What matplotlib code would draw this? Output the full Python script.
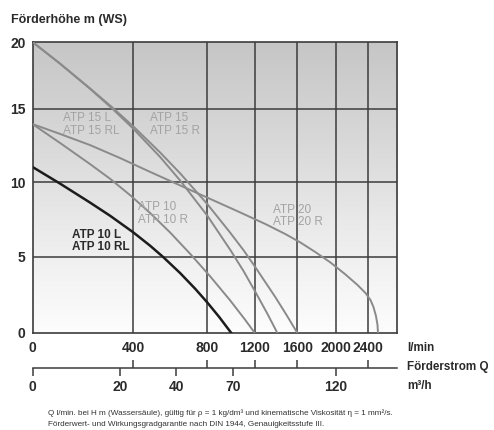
import matplotlib.pyplot as plt
import numpy as np
from matplotlib.colors import LinearSegmentedColormap

q_atp10l = [0, 110, 229, 309, 401, 493, 563, 655, 736, 802, 902, 1003]
h_atp10l = [11.03, 9.89, 8.63, 7.75, 6.65, 5.75, 5.0, 3.94, 2.91, 2.01, 1.05, 0]

q_atp10 = [0, 110, 229, 309, 389, 493, 601, 709, 827, 995, 1120, 1200]
h_atp10 = [13.97, 12.67, 11.23, 10.22, 9.12, 7.93, 6.63, 5.21, 3.72, 2.13, 0.86, 0]

q_atp15 = [0, 110, 229, 317, 401, 547, 655, 802, 995, 1106, 1204, 1393, 1496, 1600]
h_atp15 = [20, 18.38, 16.54, 15.13, 13.82, 12.02, 10.59, 8.53, 6.61, 5.45, 4.34, 2.36, 1.21, 0]

q_atp15l = [0, 110, 229, 317, 401, 547, 655, 802, 995, 1106, 1204, 1318, 1412]
h_atp15l = [20, 18.38, 16.51, 15.04, 13.66, 11.71, 10.1, 7.76, 5.47, 4.07, 2.72, 1.27, 0]

q_atp20 = [0, 110, 229, 349, 493, 655, 827, 1078, 1299, 1487, 1631, 1788, 1946, 2123,
           2273, 2373, 2435, 2472, 2503, 2522, 2528]
h_atp20 = [13.97, 13.29, 12.53, 11.64, 10.69, 9.77, 8.87, 7.97, 7.2, 6.53, 5.97, 5.33, 4.64,
           3.85, 3.16, 2.63, 2.17, 1.71, 1.12, 0.53, 0]

lmin_ticks = [0, 400, 800, 1200, 1600, 2000, 2400]
h_ticks = [0, 5, 10, 15, 20]
m3h_labels = ["0", "20", "40", "70", "120"]
m3h_pos = [0, 349, 633, 1020, 2000]  # Lage auf der l/min-Achse

# nicht-lineare Achsen wie im Datenblatt (stueckweise linear)
kx = np.array([-1e5, 0, 400, 800, 1200, 1600, 2000, 2400, 2760, 1e5])
px = np.array([-25075, 0, 100.3, 174.3, 222, 264.5, 302.7, 334.7, 363.7, 363.7 + (1e5 - 2760) * 0.0806])
ky = np.array([-1e4, 0, 5, 10, 15, 20, 1e4])
py = np.array([-1.52e5, 0, 76, 151, 224, 291, 291 + (1e4 - 20) * 13.4])

def fx(x):
    return np.interp(x, kx, px)

def fxi(x):
    return np.interp(x, px, kx)

def fy(y):
    return np.interp(y, ky, py)

def fyi(y):
    return np.interp(y, py, ky)

W, H = 494, 430
fig = plt.figure(figsize=(W / 100, H / 100), dpi=100)
left, right, top, bottom = 32.5, 396.7, 42, 333
ax = fig.add_axes([left / W, (H - bottom) / H, (right - left) / W, (bottom - top) / H])
ax.set_xscale("function", functions=(fx, fxi))
ax.set_yscale("function", functions=(fy, fyi))
ax.set_xlim(0, 2760)
ax.set_ylim(0, 20)

# Hintergrundverlauf
cmap = LinearSegmentedColormap.from_list("bg", ["#fdfdfd", "#ececec", "#d8d8d8", "#c6c6c6"])
grad = np.linspace(0, 1, 256).reshape(-1, 1)
ax.imshow(grad, extent=(0, 1, 0, 1), transform=ax.transAxes, cmap=cmap,
          aspect="auto", origin="lower", zorder=0)

gc = "#3c3c3c"
for v in lmin_ticks[1:]:
    ax.axvline(v, color=gc, lw=1.1, zorder=1)
for v in h_ticks[1:-1]:
    ax.axhline(v, color=gc, lw=1.1, zorder=1)
for s in ax.spines.values():
    s.set_color(gc)
    s.set_linewidth(1.2)

grey = "#8a8a8a"
ax.plot(q_atp15l, h_atp15l, color=grey, lw=1.4, zorder=3)
ax.plot(q_atp15, h_atp15, color=grey, lw=1.4, zorder=3)
ax.plot(q_atp10, h_atp10, color=grey, lw=1.4, zorder=3)
ax.plot(q_atp20, h_atp20, color=grey, lw=1.4, zorder=3)
ax.plot(q_atp10l, h_atp10l, color="#1c1c1c", lw=1.8, zorder=4)

tfont = dict(family=["Liberation Sans", "DejaVu Sans"], fontsize=8.5)
lc = "#a3a3a3"
ax.text(120, 13.95, "ATP 15 L\nATP 15 RL", color=lc, va="center", linespacing=1.05, zorder=5, **tfont)
ax.text(490, 13.95, "ATP 15\nATP 15 R", color=lc, va="center", linespacing=1.05, zorder=5, **tfont)
ax.text(430, 7.9, "ATP 10\nATP 10 R", color=lc, va="center", linespacing=1.05, zorder=5, **tfont)
ax.text(1370, 7.75, "ATP 20\nATP 20 R", color=lc, va="center", linespacing=1.05, zorder=5, **tfont)
ax.text(157, 6.05, "ATP 10 L\nATP 10 RL", color="#2a2a2a", va="center", fontweight="bold",
        linespacing=1.05, zorder=5, **tfont)

bfont = dict(family=["Liberation Sans", "DejaVu Sans"], fontsize=10, fontweight="bold")
ax.set_xticks(lmin_ticks)
ax.set_xticklabels([str(v) for v in lmin_ticks], **bfont)
ax.set_yticks(h_ticks)
ax.set_yticklabels([str(v) for v in h_ticks], **bfont)
ax.tick_params(axis="x", length=0, pad=6)
ax.tick_params(axis="y", length=0, pad=5)
for lab in ax.get_xticklabels() + ax.get_yticklabels():
    lab.set_color("#2a2a2a")

# zweite Achse m3/h
ax2 = fig.add_axes([left / W, (H - 368) / H, (right - left) / W, 0.0001])
ax2.set_xscale("function", functions=(fx, fxi))
ax2.set_xlim(0, 2760)
ax2.patch.set_visible(False)
for k in ["top", "left", "right"]:
    ax2.spines[k].set_visible(False)
ax2.spines["bottom"].set_color(gc)
ax2.spines["bottom"].set_linewidth(1.1)
ax2.set_yticks([])
ax2.set_xticks(m3h_pos)
ax2.set_xticklabels(m3h_labels, **bfont)
ax2.set_xticks(lmin_ticks, minor=True)
ax2.tick_params(axis="x", which="major", direction="out", length=6, width=1.1, color=gc, pad=2.5)
ax2.tick_params(axis="x", which="minor", direction="in", length=6, width=1.1, color=gc)
for lab in ax2.get_xticklabels():
    lab.set_color("#2a2a2a")

sfont = dict(bfont, fontsize=8.4)
fig.text(11 / W, 1 - 20 / H, "Förderhöhe m (WS)", va="center", ha="left", color="#2a2a2a", **dict(bfont, fontsize=9))
fig.text(407 / W, 1 - 348 / H, "l/min", va="center", ha="left", color="#2a2a2a", **sfont)
fig.text(407 / W, 1 - 367 / H, "Förderstrom Q", va="center", ha="left", color="#2a2a2a", **sfont)
fig.text(407 / W, 1 - 386 / H, "m³/h", va="center", ha="left", color="#2a2a2a", **sfont)

nfont = dict(family=["Liberation Sans Narrow", "Liberation Sans", "DejaVu Sans"], fontsize=5.85, color="#333333")
fig.text(48 / W, 1 - 413 / H,
         "Q l/min. bei H m (Wassersäule), gültig für ρ = 1 kg/dm³ und kinematische Viskosität η = 1 mm²/s.",
         va="center", ha="left", **nfont)
fig.text(48 / W, 1 - 425 / H,
         "Förderwert- und Wirkungsgradgarantie nach DIN 1944, Genauigkeitsstufe III.",
         va="center", ha="left", **nfont)

fig.savefig("out.png", dpi=100)
